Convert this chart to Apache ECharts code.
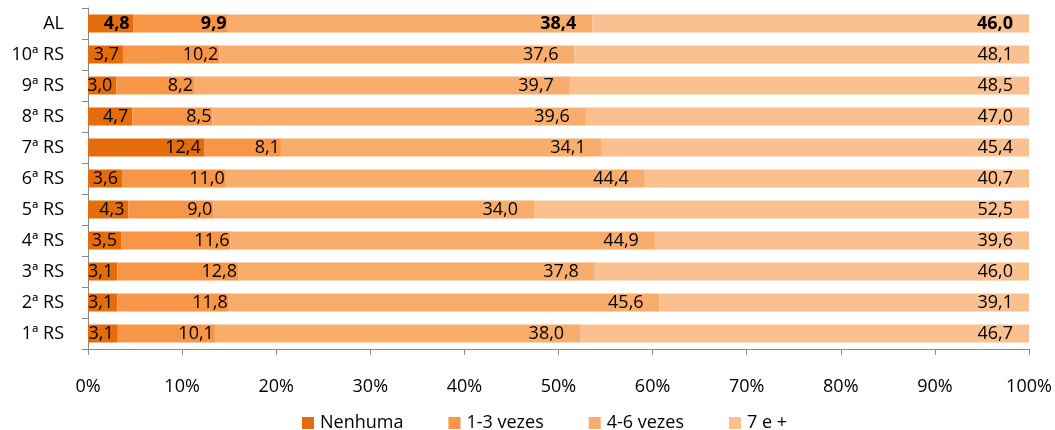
<!DOCTYPE html>
<html>
<head>
<meta charset="utf-8">
<script src="https://cdn.jsdelivr.net/npm/echarts@6/dist/echarts.min.js"></script>
<style>
  html, body { margin: 0; padding: 0; background: #fff; }
  #chart { width: 1055px; height: 430px; }
</style>
</head>
<body>
<div id="chart"></div>
<script>
// Regions, listed top to bottom
const regions = ['AL', '10ª RS', '9ª RS', '8ª RS', '7ª RS', '6ª RS', '5ª RS', '4ª RS', '3ª RS', '2ª RS', '1ª RS'];
const seriesNames = ['Nenhuma', '1-3 vezes', '4-6 vezes', '7 e +'];

// Percentages per region (same order as regions)
const nenhuma   = [4.8, 3.7, 3.0, 4.7, 12.4, 3.6, 4.3, 3.5, 3.1, 3.1, 3.1];
const vezes1a3  = [9.9, 10.2, 8.2, 8.5, 8.1, 11.0, 9.0, 11.6, 12.8, 11.8, 10.1];
const vezes4a6  = [38.4, 37.6, 39.7, 39.6, 34.1, 44.4, 34.0, 44.9, 37.8, 45.6, 38.0];
const vezes7mais = [46.0, 48.1, 48.5, 47.0, 45.4, 40.7, 52.5, 39.6, 46.0, 39.1, 46.7];

const xTicks = [0, 10, 20, 30, 40, 50, 60, 70, 80, 90, 100];

const values = [nenhuma, vezes1a3, vezes4a6, vezes7mais];
const colors = ['#E46C0A', '#F79646', '#F8AD6C', '#FAC090'];
const labelDistance = [4, 1, 16, 16];
const FONT = 'Open Sans';

// 100% stacked: each bar is scaled by its row total
const totals = regions.map((_, i) => values.reduce((s, arr) => s + arr[i], 0));

const fmt = v => v.toFixed(1).replace('.', ',');

const series = values.map((arr, k) => ({
  name: seriesNames[k],
  type: 'bar',
  stack: 'total',
  barWidth: 18,
  itemStyle: { color: colors[k] },
  label: {
    show: true,
    position: 'insideRight',
    distance: labelDistance[k],
    color: '#000',
    fontFamily: FONT,
    fontSize: 18,
    formatter: p => fmt(arr[p.dataIndex])
  },
  data: arr.map((v, i) => {
    const item = { value: v / totals[i] * 100 };
    if (regions[i] === 'AL') item.label = { fontWeight: 'bold' };
    return item;
  })
}));

const chart = echarts.init(document.getElementById('chart'), null, { renderer: 'canvas' });
chart.setOption({
  animation: false,
  color: colors,
  grid: { left: 88, right: 26, top: 8, bottom: 81, containLabel: false },
  legend: {
    data: seriesNames,
    left: 297,
    top: 409,
    icon: 'rect',
    itemWidth: 12,
    itemHeight: 12,
    itemGap: 45,
    textStyle: { fontFamily: FONT, fontSize: 18, color: '#000', padding: [0, 0, 0, 1] }
  },
  xAxis: {
    type: 'value',
    min: xTicks[0],
    max: xTicks[xTicks.length - 1],
    interval: xTicks[1] - xTicks[0],
    axisLine: { show: true, lineStyle: { color: '#898989', width: 1 } },
    axisTick: { show: true, length: 6, lineStyle: { color: '#898989' } },
    splitLine: { show: false },
    axisLabel: {
      margin: 29,
      color: '#000',
      fontFamily: FONT,
      fontSize: 18,
      formatter: '{value}%'
    }
  },
  yAxis: {
    type: 'category',
    inverse: true,
    data: regions,
    axisLine: { show: true, lineStyle: { color: '#898989', width: 1 } },
    axisTick: { show: true, length: 6, lineStyle: { color: '#898989' } },
    axisLabel: { margin: 24, color: '#000', fontFamily: FONT, fontSize: 18 }
  },
  series: series
});
</script>
</body>
</html>
